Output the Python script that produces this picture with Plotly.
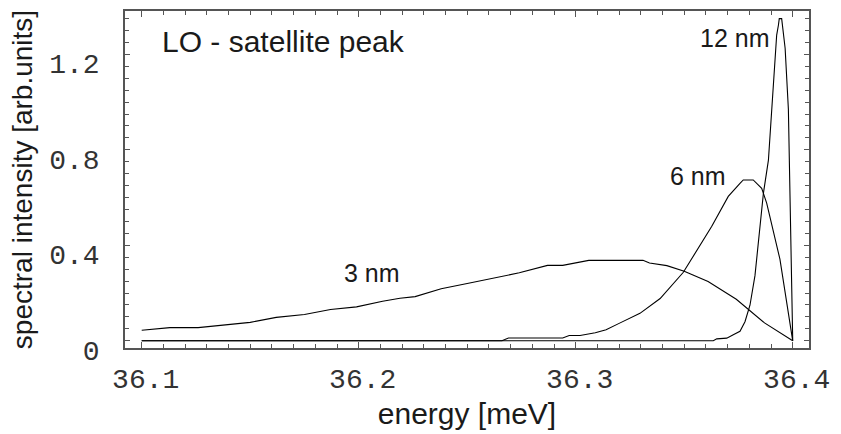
import plotly.graph_objects as go

# ---- data ----
energy_3nm = [36.100, 36.113, 36.126, 36.138, 36.150, 36.162, 36.175, 36.187, 36.199,
              36.211, 36.219, 36.226, 36.238, 36.250, 36.264, 36.274, 36.287, 36.294,
              36.306, 36.331, 36.334, 36.342, 36.350, 36.361, 36.374, 36.387, 36.400]
intensity_3nm = [0.044, 0.055, 0.055, 0.066, 0.077, 0.098, 0.110, 0.131, 0.142,
                 0.166, 0.178, 0.185, 0.218, 0.240, 0.267, 0.285, 0.316, 0.316,
                 0.337, 0.337, 0.326, 0.315, 0.291, 0.248, 0.174, 0.075, 0.0]

energy_6nm = [36.100, 36.266, 36.269, 36.294, 36.297, 36.302, 36.309, 36.314, 36.320,
              36.3296, 36.3389, 36.3496, 36.3627, 36.3703, 36.3757, 36.3772, 36.3818,
              36.3834, 36.3857, 36.388, 36.3941, 36.400]
intensity_6nm = [0.0, 0.0, 0.012, 0.012, 0.022, 0.022, 0.034, 0.046, 0.073,
                 0.115, 0.177, 0.287, 0.480, 0.605, 0.660, 0.674, 0.674,
                 0.660, 0.639, 0.577, 0.342, 0.0]

energy_12nm = [36.100, 36.3634, 36.365, 36.3696, 36.3726, 36.3757, 36.378, 36.3803,
               36.3826, 36.3841, 36.3865, 36.3888, 36.3926, 36.3934, 36.3938, 36.3949,
               36.3954, 36.3965, 36.398, 36.400]
intensity_12nm = [0.0, 0.0, 0.008, 0.011, 0.025, 0.040, 0.080, 0.149,
                  0.273, 0.412, 0.619, 0.757, 1.281, 1.322, 1.350, 1.350,
                  1.315, 1.226, 0.970, 0.0]

x_tick_values = [36.1, 36.2, 36.3, 36.4]
x_tick_labels = ["36.1", "36.2", "36.3", "36.4"]
y_tick_values = [0, 0.4, 0.8, 1.2]
y_tick_labels = ["0", "0.4", "0.8", "1.2"]

# curve labels: (text, energy, intensity, xanchor, font size)
curve_labels = [
    ("LO - satellite peak", 36.1084, 1.252, "left", 30),
    ("12 nm", 36.3899, 1.270, "right", 25),
    ("6 nm", 36.3702, 0.690, "right", 25),
    ("3 nm", 36.2060, 0.285, "center", 25),
]

fig = go.Figure()
for e, i, name in [(energy_3nm, intensity_3nm, "3 nm"),
                   (energy_6nm, intensity_6nm, "6 nm"),
                   (energy_12nm, intensity_12nm, "12 nm")]:
    fig.add_trace(go.Scatter(x=e, y=i, mode="lines", name=name,
                             line=dict(color="black", width=1.1), showlegend=False))

for text, ex, iy, anchor, size in curve_labels:
    fig.add_annotation(x=ex, y=iy, xref="x", yref="y", text=text, showarrow=False,
                       xanchor=anchor, yanchor="middle",
                       font=dict(family="Liberation Sans", size=size, color="#1a1a1a"))

axis_common = dict(showline=True, mirror="allticks", linecolor="#555555", linewidth=1.5,
                   showgrid=False, zeroline=False, ticks="inside", tickcolor="#555555",
                   tickwidth=1)

fig.update_xaxes(**axis_common, range=[36.0923, 36.4075],
                 tickvals=x_tick_values, ticktext=x_tick_labels, ticklen=6,
                 tickfont=dict(family="Liberation Mono", size=28, color="#333333"),
                 ticklabelstandoff=5, ticklabelshift=4,
                 minor=dict(ticks="inside", dtick=0.01, tick0=36.1, ticklen=4,
                            tickcolor="#555555"),
                 title=dict(text="energy [meV]", standoff=8,
                            font=dict(family="Liberation Sans", size=30, color="#1a1a1a")))
fig.update_yaxes(**axis_common, range=[-0.0302, 1.3818],
                 tickvals=y_tick_values, ticktext=y_tick_labels, ticklen=5,
                 tickfont=dict(family="Liberation Mono", size=28, color="#333333"),
                 ticklabelstandoff=18, ticklabelshift=9,
                 minor=dict(ticks="inside", dtick=0.05, tick0=0, ticklen=4,
                            tickcolor="#555555"),
                 title=dict(text="spectral intensity [arb.units]", standoff=8,
                            font=dict(family="Liberation Sans", size=28, color="#1a1a1a")))

fig.update_layout(width=841, height=434, margin=dict(l=125, r=32, t=9, b=84),
                  paper_bgcolor="white", plot_bgcolor="white")

fig.write_html("out.html")
